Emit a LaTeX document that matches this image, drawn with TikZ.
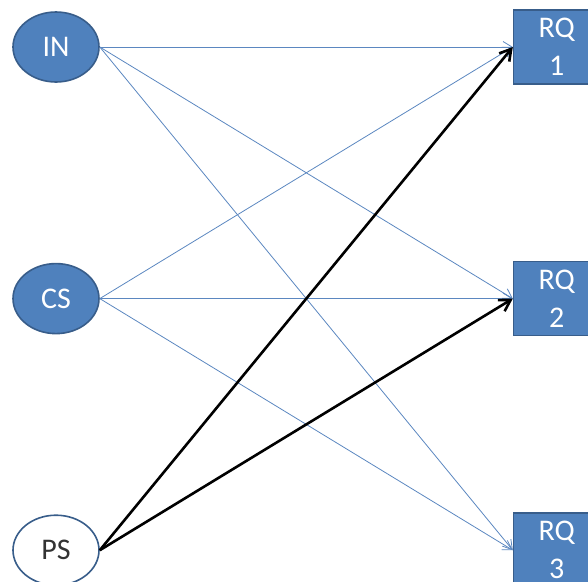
\documentclass[tikz,border=0pt]{standalone}
\usepackage{fontspec}
\setmainfont{Carlito}
\usepackage{tikz}
\usetikzlibrary{arrows.meta, positioning, shapes.geometric}
\definecolor{offblue}{HTML}{4F81BD}
\definecolor{offedge}{HTML}{385D8A}
\definecolor{linkblue}{HTML}{5B87C0}

\begin{document}
\begin{tikzpicture}[
    node distance=180pt and 413pt,
    src/.style={ellipse, draw=offedge, line width=1.6pt, fill=offblue, text=white, minimum width=86pt, minimum height=70pt, inner sep=0pt, font=\fontsize{30}{36}\selectfont},
    rq/.style={rectangle, draw=offedge, line width=1.6pt, fill=offblue, text=white, minimum width=86pt, minimum height=74pt, inner sep=0pt, align=center, font=\fontsize{30}{38}\selectfont},
    thin/.style={-{Straight Barb[length=9pt, width=11pt]}, draw=linkblue, line width=0.8pt},
    bold/.style={-{Straight Barb[length=11pt, width=13pt]}, draw=black, line width=2.6pt}
]
\useasboundingbox (0,0) rectangle (588pt,-581pt);
% Sources
\node[src] (in) at (56pt,-47pt) {IN};
\node[src, below=of in] (cs) {CS};
\node[src, below=of cs, fill=white, text=black!80] (ps) {PS};

% Research questions
\node[rq, right=of in] (rq1) {RQ\\1};
\node[rq, right=of cs] (rq2) {RQ\\2};
\node[rq, right=of ps] (rq3) {RQ\\3};

\foreach \s in {in, cs} {
  \foreach \t in {rq1, rq2, rq3} {
    \draw[thin] (\s.east) -- (\t.west);
  }
}
\draw[bold] (ps.east) -- (rq1.west);
\draw[bold] (ps.east) -- (rq2.west);
\end{tikzpicture}
\end{document}
